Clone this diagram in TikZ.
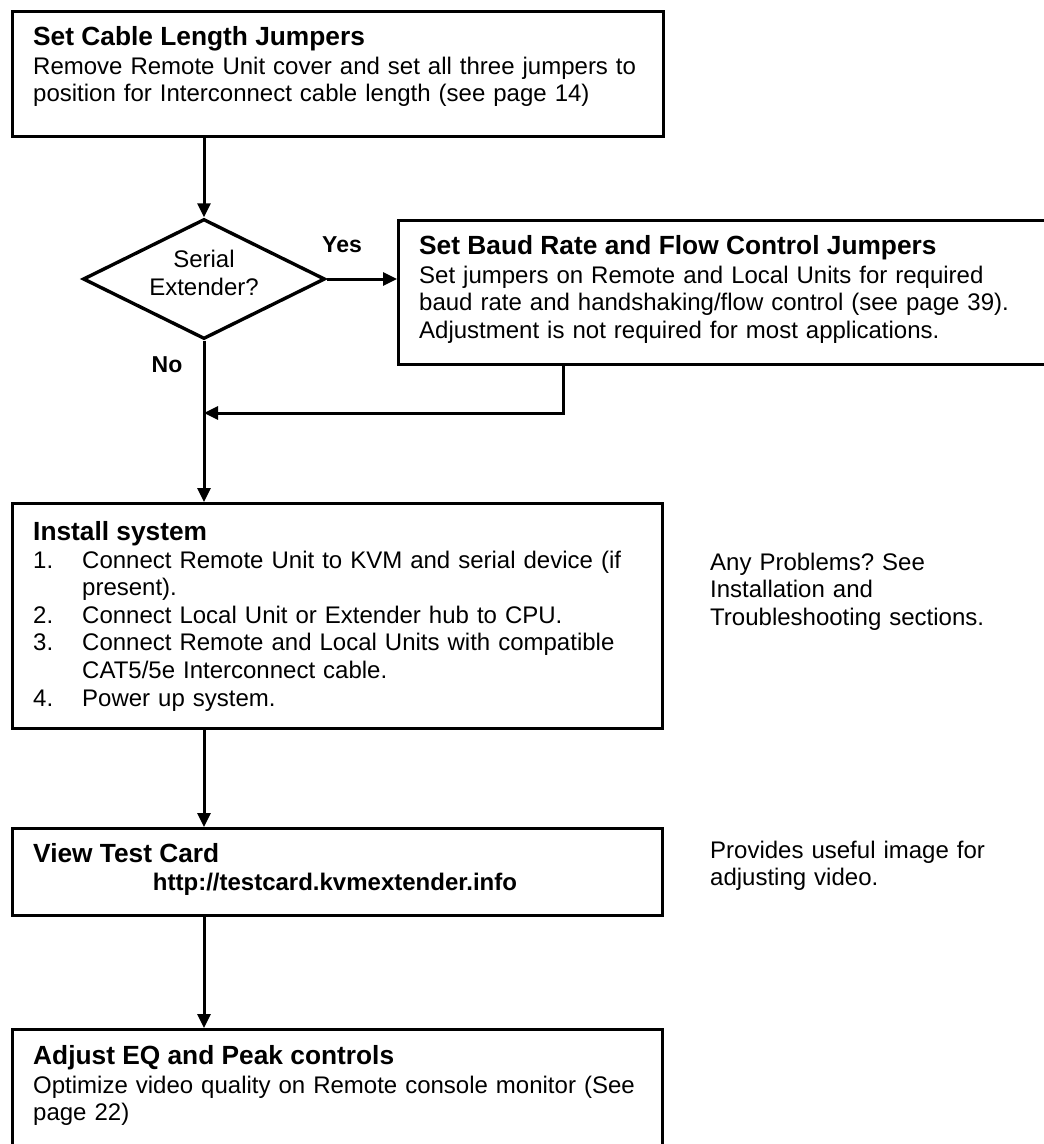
\documentclass[tikz,border=0pt]{standalone}
\usepackage{fontspec}
\setmainfont{Liberation Sans}
\usetikzlibrary{shapes.geometric,arrows.meta}
\frenchspacing
\begin{document}
\frenchspacing
\begin{tikzpicture}[x=1pt,y=-1pt,
  box/.style={draw, line width=3.4pt, rectangle, inner sep=0pt, anchor=north west},
  ttl/.style={anchor=base west, inner sep=0pt, font=\fontsize{26.3}{30}\selectfont\bfseries},
  txt/.style={anchor=base west, inner sep=0pt, text width=#1, align=left, font=\fontsize{24}{27.6}\selectfont},
  txt/.default=620pt,
  lbl/.style={anchor=base, inner sep=0pt, font=\fontsize{23}{27}\selectfont\bfseries},
  arr/.style={line width=3pt, line join=miter, -{Triangle[length=14pt,width=13pt]}}
]
\useasboundingbox (0,0) rectangle (1044,1144);
\clip (0,0) rectangle (1044,1144);

% Box 1
\node[box, minimum width=651pt, minimum height=125pt] (b1) at (11,10) {};
\node[ttl] (b1t) at (33,45) {Set Cable Length Jumpers};
\node[txt] (b1b) at (33,74) {Remove Remote Unit cover and set all three jumpers to\\position for Interconnect cable length (see page 14)};

% Decision
\node[draw, line width=3.4pt, shape=diamond, minimum width=242pt, minimum height=120pt, inner sep=0pt] (d) at (204,279) {};
\node[anchor=base, inner sep=0pt, text width=160pt, align=center, font=\fontsize{24}{28}\selectfont] (dt) at (204,267) {Serial\\Extender?};

% Box 2
\node[box, minimum width=660pt, minimum height=144pt] (b2) at (397,219) {};
\node[ttl] (b2t) at (419,254) {Set Baud Rate and Flow Control Jumpers};
\node[txt] (b2b) at (419,283) {Set jumpers on Remote and Local Units for required\\baud rate and handshaking/flow control (see page 39).\\Adjustment is not required for most applications.};

\node[lbl] (yes) at (342,252) {Yes};
\node[lbl] (no) at (167,372) {No};

% Box 3
\node[box, minimum width=650pt, minimum height=225pt] (b3) at (11,502) {};
\node[ttl] (b3t) at (33,540) {Install system};
\node[txt] (b3b) at (33,568) {\makebox[49pt][l]{1.}Connect Remote Unit to KVM and serial device (if\\
\hspace*{49pt}present).\\
\makebox[49pt][l]{2.}Connect Local Unit or Extender hub to CPU.\\
\makebox[49pt][l]{3.}Connect Remote and Local Units with compatible\\
\hspace*{49pt}CAT5/5e Interconnect cable.\\
\makebox[49pt][l]{4.}Power up system.};
\node[txt=320pt] (n1) at (710,570) {Any Problems? See\\Installation and\\Troubleshooting sections.};

% Box 4
\node[box, minimum width=650pt, minimum height=87pt] (b4) at (11,827) {};
\node[ttl] (b4t) at (33,862) {View Test Card};
\node[anchor=base, inner sep=0pt, font=\fontsize{24}{27.6}\selectfont\bfseries] (url) at (335,890) {http://testcard.kvmextender.info};
\node[txt=320pt] (n2) at (710,858) {Provides useful image for\\adjusting video.};

% Box 5
\node[box, minimum width=650pt, minimum height=130pt] (b5) at (11,1028) {};
\node[ttl] (b5t) at (33,1064) {Adjust EQ and Peak controls};
\node[txt] (b5b) at (33,1093) {Optimize video quality on Remote console monitor (See\\page 22)};

% Connectors
\coordinate (rx) at (563,413);
\coordinate (j) at (204,413);
\draw[arr] (b1.south -| d.north) -- (d.north);
\draw[arr] (d.east) -- (b2.west |- d.east);
\draw[arr] (b2.south -| rx) -- (rx) -- (j);
\draw[arr] (d.south) -- (b3.north -| d.south);
\draw[arr] (b3.south -| d.south) -- (b4.north -| d.south);
\draw[arr] (b4.south -| d.south) -- (b5.north -| d.south);
\end{tikzpicture}
\end{document}
